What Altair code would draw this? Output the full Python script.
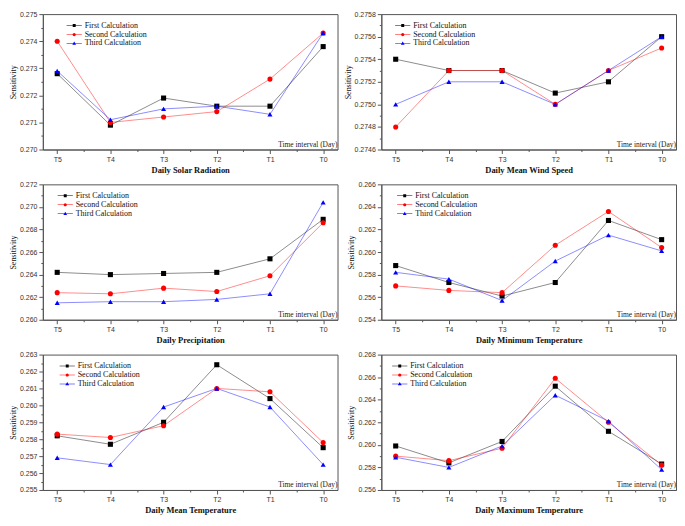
import altair as alt
import pandas as pd

periods = ["T5", "T4", "T3", "T2", "T1", "T0"]
calcs = ["First Calculation", "Second Calculation", "Third Calculation"]
colors = ["#000000", "#ff0000", "#0000ff"]
titles = ["Daily Solar Radiation", "Daily Mean Wind Speed", "Daily Precipitation",
          "Daily Minimum Temperature", "Daily Mean Temperature", "Daily Maximum Temperature"]

solar_first = [0.2728, 0.2709, 0.2719, 0.2716, 0.2716, 0.2738]
solar_second = [0.2740, 0.2710, 0.2712, 0.2714, 0.2726, 0.2743]
solar_third = [0.2729, 0.2711, 0.2715, 0.2716, 0.2713, 0.2743]

wind_first = [0.2754, 0.2753, 0.2753, 0.2751, 0.2752, 0.2756]
wind_second = [0.2748, 0.2753, 0.2753, 0.2750, 0.2753, 0.2755]
wind_third = [0.2750, 0.2752, 0.2752, 0.2750, 0.2753, 0.2756]

precip_first = [0.2642, 0.2640, 0.2641, 0.2642, 0.2654, 0.2689]
precip_second = [0.2624, 0.2623, 0.2628, 0.2625, 0.2639, 0.2686]
precip_third = [0.2615, 0.2616, 0.2616, 0.2618, 0.2623, 0.2704]

tmin_first = [0.2588, 0.2573, 0.2561, 0.2573, 0.2628, 0.2611]
tmin_second = [0.2570, 0.2566, 0.2564, 0.2606, 0.2636, 0.2604]
tmin_third = [0.2582, 0.2576, 0.2557, 0.2592, 0.2615, 0.2601]

tmean_first = [0.2582, 0.2577, 0.2590, 0.2624, 0.2604, 0.2575]
tmean_second = [0.2583, 0.2581, 0.2588, 0.2610, 0.2608, 0.2578]
tmean_third = [0.2569, 0.2565, 0.2599, 0.2610, 0.2599, 0.2565]

tmax_first = [0.2599, 0.2584, 0.2603, 0.2652, 0.2612, 0.2583]
tmax_second = [0.2590, 0.2586, 0.2597, 0.2659, 0.2620, 0.2582]
tmax_third = [0.2589, 0.2580, 0.2599, 0.2644, 0.2621, 0.2578]

y_domains = [(0.270, 0.275, 0.001, 3), (0.2746, 0.2758, 0.0002, 4), (0.260, 0.272, 0.002, 3),
             (0.254, 0.266, 0.002, 3), (0.255, 0.263, 0.001, 3), (0.256, 0.268, 0.002, 3)]
all_series = [
    [solar_first, solar_second, solar_third],
    [wind_first, wind_second, wind_third],
    [precip_first, precip_second, precip_third],
    [tmin_first, tmin_second, tmin_third],
    [tmean_first, tmean_second, tmean_third],
    [tmax_first, tmax_second, tmax_third],
]
legend_x = [27, 17, 18, 19, 20, 14]

W, H = 296, 136
SERIF = "Liberation Serif"
SANS = "Liberation Sans"
point_shapes = ["square", "circle", "triangle-up"]
legend_paths = [
    "M-1.7,-0.06H1.7V0.06H-1.7Z M-0.33,-0.33H0.33V0.33H-0.33Z",
    "M-1.7,-0.06H1.7V0.06H-1.7Z M-0.36,0A0.36,0.36 0 1,1 0.36,0A0.36,0.36 0 1,1 -0.36,0Z",
    "M-1.7,-0.06H1.7V0.06H-1.7Z M0,-0.42L0.42,0.3L-0.42,0.3Z",
]


def panel(k):
    title = titles[k]
    ymin, ymax, step, dec = y_domains[k]
    rows = []
    for c, vals in zip(calcs, all_series[k]):
        for i, (p, v) in enumerate(zip(periods, vals)):
            rows.append({"calc": c, "period": p, "idx": i, "value": v})
    df = pd.DataFrame(rows)

    nmaj = round((ymax - ymin) / step)
    yvals = [round(ymin + j * step / 2, 6) for j in range(2 * nmaj + 1)]
    ytest = f"abs(datum.value/{step} - round(datum.value/{step})) > 0.25"
    yaxis = alt.Axis(
        values=yvals, title="Sensitivity", titleFont=SERIF, titleFontSize=8,
        titleFontWeight="normal", titlePadding=2, labelOverlap=False, labelFlush=False,
        labelExpr=f"{ytest} ? '' : format(datum.value, '.{dec}f')",
        tickSize={"condition": {"test": ytest, "value": 2}, "value": 4},
        grid=False,
    )
    xtest = "datum.value % 1 != 0"
    xaxis = alt.Axis(
        values=[j / 2 for j in range(11)], title=title, titleFont=SERIF, titleFontSize=8.5,
        titleFontWeight="bold", titlePadding=3, labelOverlap=False, labelFlush=False,
        labelExpr=f"{xtest} ? '' : 'T' + (5 - datum.value)",
        tickSize={"condition": {"test": xtest, "value": 2}, "value": 4},
        grid=False,
    )
    x = alt.X("idx:Q", scale=alt.Scale(domain=[-0.27, 5.27], nice=False, zero=False), axis=xaxis)
    y = alt.Y("value:Q", scale=alt.Scale(domain=[ymin, ymax], nice=False, zero=False), axis=yaxis)
    base = alt.Chart(df)

    layers = []
    for c, col in zip(calcs, colors):
        layers.append(base.transform_filter(alt.datum.calc == c).mark_line(
            strokeWidth=1, opacity=0.45, color=col).encode(x=x, y=y))
    for c, s, col in zip(calcs, point_shapes, colors):
        layers.append(base.transform_filter(alt.datum.calc == c).mark_point(
            shape=s, filled=True, size=26, opacity=1, color=col).encode(x=x, y=y))
    leg = dict(title=None, orient="none", legendX=legend_x[k], legendY=7,
               labelFont=SERIF, labelFontSize=8, symbolSize=81, padding=0,
               rowPadding=0, labelOffset=6, symbolStrokeWidth=0, symbolOpacity=1,
               labelColor="#111111")
    legend_layer = base.transform_filter("datum.idx < 0").mark_point(filled=True, opacity=1).encode(
        x=x, y=y,
        color=alt.Color("calc:N", scale=alt.Scale(domain=calcs, range=colors),
                        legend=alt.Legend(**leg)),
        shape=alt.Shape("calc:N", scale=alt.Scale(domain=calcs, range=legend_paths),
                        legend=alt.Legend(**leg)),
    )
    layers.append(legend_layer)
    note = alt.Chart(pd.DataFrame({"t": ["Time interval (Day)"]})).mark_text(
        align="right", baseline="bottom", font=SERIF, fontSize=7.5, color="#222").encode(
        x=alt.value(W), y=alt.value(H - 1), text="t:N")
    layers.append(note)
    return alt.layer(*layers).properties(width=W, height=H)


chart = alt.concat(*[panel(k) for k in range(6)], columns=2,
                   spacing=alt.RowColnumber(row=5, column=5)).resolve_scale(
    color="independent", shape="independent").resolve_legend(
    color="independent", shape="independent").properties(padding=0).configure_view(
    stroke="#555555", strokeWidth=1).configure_axis(
    domainColor="#555555", tickColor="#555555", labelFont=SANS, labelFontSize=7,
    labelColor="#333333", labelPadding=2, titleColor="#111111")

chart.save("out.html", embed_options={"renderer": "svg", "actions": False})
